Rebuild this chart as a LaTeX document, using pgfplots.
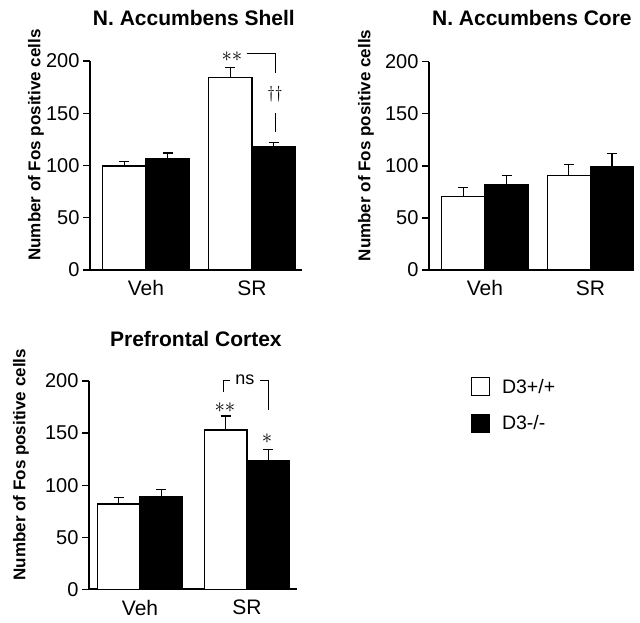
\documentclass[border=0pt]{standalone}
\usepackage{pgfplots}
\pgfplotsset{compat=1.18}
\usepackage{fontspec}
\setmainfont{Liberation Sans}

\pgfplotsset{
 fospanel/.style={
  scale only axis,
  ymin=0, ymax=200, ytick={0,50,100,150,200},
  xtick={0,1}, xticklabels={Veh,SR},
  axis x line*=bottom, axis y line*=left,
  axis line style={-, line width=1.8pt, black},
  ytick style={line width=1.3pt, black},
  xtick style={draw=none},
  tick align=outside, major tick length=7pt,
  yticklabel style={font=\fontsize{20}{21}\selectfont},
  xticklabel style={font=\fontsize{21}{22}\selectfont},
  /pgf/number format/assume math mode=true,
  ylabel={Number of Fos positive cells},
  ylabel style={font=\bfseries\fontsize{17}{18}\selectfont, anchor=center},
  title style={font=\bfseries\fontsize{21}{22}\selectfont, anchor=center},
  clip=false,
  bar width=0.41,
 },
 errstyle/.style={error bars/.cd, y dir=plus, y explicit,
   error bar style={line width=1.3pt, black},
   error mark=-,
   error mark options={rotate=90, mark size=5pt, line width=1.3pt, black}},
 whitebar/.style={ybar, bar shift=0, draw=black, fill=white, line width=1.3pt, errstyle},
 blackbar/.style={ybar, bar shift=0, draw=black, fill=black, line width=1.3pt, errstyle},
}

\begin{document}
\begin{tikzpicture}
\path[use as bounding box] (0pt,0pt) rectangle (640pt,-622pt);

% Panel 1: N. Accumbens Shell
\begin{axis}[fospanel,
  at={(90pt,-270pt)}, anchor=south west,
  width=212pt, height=209pt,
  xmin=-0.528, xmax=1.472,
  title={N. Accumbens Shell},
  title style={at={(rel axis cs:0.49,1.177)}},
  ylabel style={at={(rel axis cs:-0.255,0.598)}},
]
\addplot[whitebar] coordinates {(-0.205,99.5) +- (0,4.5) (0.795,184) +- (0,9.6)};
\addplot[blackbar] coordinates {(0.205,107) +- (0,5) (1.205,118.5) +- (0,3.5)};
\draw[line width=0.8pt] (axis cs:0.953,207.7) -- (axis cs:1.217,207.7) -- (axis cs:1.217,188.5);
\draw[line width=0.8pt] (axis cs:1.217,150.2) -- (axis cs:1.217,132);
\node at (axis cs:0.811,203.8) {\fontsize{20}{20}\selectfont$\ast\ast$};
\node at (axis cs:1.217,168.4) {\fontsize{18}{18}\selectfont$\dagger\dagger$};
\end{axis}

% Panel 2: N. Accumbens Core
\begin{axis}[fospanel,
  at={(429pt,-270pt)}, anchor=south west,
  width=205pt, height=208.3pt,
  xmin=-0.53, xmax=1.413,
  title={N. Accumbens Core},
  title style={at={(rel axis cs:0.502,1.18)}},
  ylabel style={at={(rel axis cs:-0.307,0.598)}},
]
\addplot[whitebar] coordinates {(-0.205,70.5) +- (0,8.5) (0.795,91) +- (0,10.5)};
\addplot[blackbar] coordinates {(0.205,81.5) +- (0,9.5) (1.205,99.2) +- (0,12.8)};
\end{axis}

% Panel 3: Prefrontal Cortex
\begin{axis}[fospanel,
  at={(89pt,-589.3pt)}, anchor=south west,
  width=208pt, height=208.3pt,
  xmin=-0.477, xmax=1.467,
  bar width=0.40,
  title={Prefrontal Cortex},
  title style={at={(rel axis cs:0.514,1.173)}},
  ylabel style={at={(rel axis cs:-0.327,0.598)}},
  legend style={at={(rel axis cs:1.82,1.03)}, anchor=north west, draw=none, fill=none,
    font=\fontsize{19.5}{20}\selectfont, row sep=17pt,
    /tikz/every odd column/.append style={column sep=10pt}},
  legend cell align=left,
  legend image code/.code={\draw[#1, line width=1.3pt] (0pt,-9pt) rectangle (18pt,9pt);},
]
\addplot[whitebar] coordinates {(-0.2,82) +- (0,6.3) (0.8,153) +- (0,13.4)};
\addplot[blackbar] coordinates {(0.2,89.3) +- (0,6.7) (1.2,124) +- (0,10)};
\legend{D3+/+, D3-/-}
\draw[line width=0.8pt] (axis cs:0.776,189.7) -- (axis cs:0.776,201) -- (axis cs:0.841,201);
\draw[line width=0.8pt] (axis cs:1.121,201) -- (axis cs:1.196,201) -- (axis cs:1.196,172);
\node at (axis cs:0.98,201) {\fontsize{18}{18}\selectfont ns};
\node at (axis cs:0.794,174) {\fontsize{20}{20}\selectfont$\ast\ast$};
\node at (axis cs:1.187,145) {\fontsize{20}{20}\selectfont$\ast$};
\end{axis}
\end{tikzpicture}
\end{document}
